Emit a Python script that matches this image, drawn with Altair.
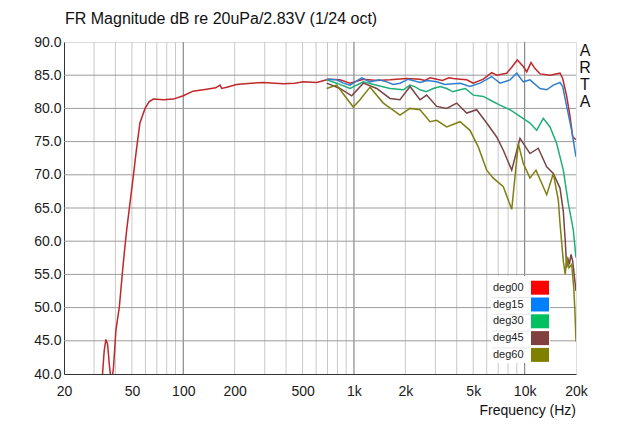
import altair as alt
import pandas as pd

# ---------------- data ----------------
series_names = ["deg00", "deg15", "deg30", "deg45", "deg60"]
legend_colors = ["#ff0000", "#0080ff", "#00c060", "#804040", "#808000"]
line_colors = ["#c0282a", "#2f7fd0", "#1faf78", "#7a4444", "#7f7f12"]

deg00_f = [33.0, 34.4, 35.2, 36.0, 37.0, 38.0, 39.0, 40.3, 42.2, 44.5, 46.6, 48.7, 50.9, 52.8,
           55.7, 59.7, 63.0, 66.7, 76.4, 87.4, 100, 114, 137, 155, 164, 168, 180, 205, 250,
           294, 385, 450, 505, 605, 692, 707, 828, 948, 1135, 1359, 1626, 2037, 2438, 2600,
           2800, 3054, 3300, 3600, 3820, 4200, 4576, 5002, 5726, 6412, 6860, 7852, 8402, 9058,
           9822, 10284, 10900, 11502, 12304, 14084, 16116, 16716, 17644, 18446, 19126, 20000]
deg00_db = [37.0, 43.5, 45.2, 44.5, 41.0, 38.5, 41.0, 46.6, 50.1, 56.7, 61.7, 65.7, 69.7, 73.2,
            77.8, 80.0, 81.0, 81.4, 81.3, 81.4, 81.9, 82.6, 82.9, 83.1, 83.5, 83.0, 83.2, 83.6, 83.8,
            83.9, 83.7, 83.8, 84.0, 83.9, 84.3, 84.4, 84.3, 83.8, 84.4, 84.2, 84.3, 84.5, 84.4, 84.2,
            84.6, 84.4, 84.2, 84.6, 84.5, 84.4, 84.3, 83.8, 84.4, 85.4, 85.0, 85.3, 86.2, 87.3,
            86.3, 85.5, 86.9, 86.0, 85.2, 85.0, 85.3, 84.5, 81.8, 78.8, 75.7, 75.3]

deg15_f = [692, 792, 866, 948, 1110, 1242, 1400, 1555, 1700, 1861, 2082, 2438, 2700, 3054, 3400,
           3820, 4200, 4784, 5476, 6412, 7174, 8210, 8988, 9822, 10752, 12304, 13470, 14726,
           16116, 16716, 17644, 18872, 20000]
deg15_db = [84.4, 84.3, 83.8, 83.5, 84.6, 84.0, 84.3, 84.0, 83.6, 83.8, 84.4, 83.9, 84.2, 84.0, 83.6,
            83.7, 83.8, 83.3, 83.8, 84.8, 83.8, 84.3, 85.3, 84.0, 84.3, 83.0, 82.8, 83.5,
            83.9, 83.3, 80.3, 76.7, 72.7]

deg30_f = [692, 792, 948, 1135, 1359, 1626, 1946, 2130, 2300, 2438, 2650, 2916, 3200, 3496, 3800,
           4182, 4500, 5002, 5726, 6552, 7174, 8210, 9394, 10752, 11768, 12866, 14084, 15416,
           16852, 18030, 19284, 20000]
deg30_db = [84.3, 83.8, 83.0, 84.0, 83.5, 83.0, 82.8, 83.5, 83.2, 82.8, 82.5, 83.0, 83.3, 83.0, 82.5,
            82.8, 83.0, 82.0, 81.8, 81.0, 80.5, 79.8, 78.8, 77.8, 76.7, 78.5, 77.2, 74.7,
            70.7, 65.7, 61.7, 57.5]

deg45_f = [692, 828, 970, 1135, 1359, 1626, 1861, 2130, 2438, 2668, 3054, 3496, 3998, 4576, 5238,
           5994, 6860, 7500, 8402, 9394, 10752, 12026, 13470, 14726, 16116, 16852, 17300, 17644,
           17900, 18300, 18700, 19126, 19500, 20000]
deg45_db = [83.8, 83.0, 81.9, 83.8, 83.0, 81.5, 81.3, 83.3, 81.3, 82.0, 80.3, 80.0, 80.8, 79.3, 79.8,
            77.8, 75.7, 73.7, 70.7, 75.5, 73.2, 74.0, 71.2, 70.2, 68.0, 64.5, 60.0, 56.0,
            57.5, 56.5, 58.0, 57.0, 55.0, 52.5]

deg60_f = [692, 792, 907, 991, 1085, 1242, 1486, 1861, 2130, 2438, 2790, 3054, 3496, 4182, 4784,
           5352, 5994, 6552, 7500, 8402, 9184, 9822, 10752, 11658, 13470, 14726, 15752, 16116,
           16852, 17300, 17644, 18200, 18872, 19400, 19730, 20000]
deg60_db = [83.0, 83.5, 81.5, 80.2, 81.3, 83.2, 80.8, 79.0, 80.0, 79.8, 78.0, 78.2, 77.2, 78.0, 76.7,
            74.2, 70.7, 69.5, 68.2, 64.8, 74.7, 71.7, 69.5, 70.7, 67.0, 70.2, 66.2, 62.7,
            57.0, 55.0, 57.7, 56.0, 56.5, 53.0, 49.2, 44.9]

x_tick_values = [20, 50, 100, 200, 500, 1000, 2000, 5000, 10000, 20000]
y_tick_values = [40, 45, 50, 55, 60, 65, 70, 75, 80, 85, 90]
minor_grid_f = [30, 40, 50, 60, 70, 80, 90, 200, 300, 400, 500, 600, 700, 800, 900,
                2000, 3000, 4000, 5000, 6000, 7000, 8000, 9000]
major_grid_f = [100, 1000, 10000]
h_grid_db = [45, 50, 55, 60, 65, 70, 75, 80, 85]

title_text = "FR Magnitude dB re 20uPa/2.83V (1/24 oct)"
xlabel_text = "Frequency (Hz)"
brand_letters = ["A", "R", "T", "A"]

# ---------------- tables ----------------
all_f = [deg00_f, deg15_f, deg30_f, deg45_f, deg60_f]
all_db = [deg00_db, deg15_db, deg30_db, deg45_db, deg60_db]
rows = []
for name, fs, dbs in zip(series_names, all_f, all_db):
    for i, (f, d) in enumerate(zip(fs, dbs)):
        rows.append({"series": name, "f": f, "db": d, "i": i})
df = pd.DataFrame(rows)

W, H = 512, 332
FONT = "Liberation Sans"

xscale = alt.Scale(type="log", domain=[20, 20000], nice=False)
yscale = alt.Scale(domain=[40, 90], nice=False, zero=False)

x_axis = alt.Axis(values=x_tick_values, grid=False, ticks=False, labelFlush=False,
                  labelOverlap=False, labelFontSize=14, labelFont=FONT, labelColor="#1a1a1a",
                  labelPadding=10, domainColor="#333333", title=None,
                  labelExpr="datum.value >= 1000 ? (datum.value / 1000) + 'k' : datum.value")
y_axis = alt.Axis(values=y_tick_values, grid=False, ticks=False, labelFlush=False,
                  labelOverlap=False, labelFontSize=14, labelFont=FONT, labelColor="#1a1a1a",
                  labelPadding=3, domainColor="#333333", title=None, format=".1f")

minor = alt.Chart(pd.DataFrame({"f": minor_grid_f})).mark_rule(
    color="#c9c9c9", strokeWidth=1).encode(x=alt.X("f:Q", scale=xscale, axis=x_axis))
major = alt.Chart(pd.DataFrame({"f": major_grid_f})).mark_rule(
    color="#8a8a8a", strokeWidth=1.2).encode(x=alt.X("f:Q", scale=xscale, axis=x_axis))
hgrid = alt.Chart(pd.DataFrame({"db": h_grid_db})).mark_rule(
    color="#9c9c9c", strokeWidth=1).encode(y=alt.Y("db:Q", scale=yscale, axis=y_axis))

lines = alt.Chart(df).mark_line(clip=True, strokeWidth=1.5).encode(
    x=alt.X("f:Q", scale=xscale, axis=x_axis),
    y=alt.Y("db:Q", scale=yscale, axis=y_axis),
    color=alt.Color("series:N", scale=alt.Scale(domain=series_names, range=line_colors), legend=None),
    order=alt.Order("i:Q"),
)

# legend (manual, label left of swatch)
leg_top, leg_step = 238.7, 16.8
leg_df = pd.DataFrame({
    "series": series_names,
    "y0": [leg_top + k * leg_step for k in range(len(series_names))],
})
leg_df["y1"] = leg_df["y0"] + 14
leg_df["yc"] = leg_df["y0"] + 7

leg_box = alt.Chart(pd.DataFrame({"a": [0]})).mark_rect(color="white").encode(
    x=alt.value(427), x2=alt.value(486), y=alt.value(234), y2=alt.value(321))
leg_sep = alt.Chart(leg_df.iloc[1:]).mark_rule(color="#e6e6e6", strokeWidth=1).encode(
    x=alt.value(428), x2=alt.value(466), y=alt.Y("y0:Q", scale=None))
leg_sw = alt.Chart(leg_df).mark_rect().encode(
    x=alt.value(467), x2=alt.value(485),
    y=alt.Y("y0:Q", scale=None), y2="y1:Q",
    color=alt.Color("series:N", scale=alt.Scale(domain=series_names, range=legend_colors), legend=None))
leg_txt = alt.Chart(leg_df).mark_text(align="left", baseline="middle", font=FONT,
                                       fontSize=11, color="#222222").encode(
    x=alt.value(429), y=alt.Y("yc:Q", scale=None), text="series:N")

brand_df = pd.DataFrame({"t": brand_letters, "y": [9 + 17 * k for k in range(len(brand_letters))]})
brand = alt.Chart(brand_df).mark_text(align="center", baseline="middle", font=FONT,
                                      fontSize=16, color="#111111").encode(
    x=alt.value(521), y=alt.Y("y:Q", scale=None), text="t:N")

title = alt.Chart(pd.DataFrame({"t": [title_text]})).mark_text(
    align="left", baseline="middle", font=FONT, fontSize=16, color="#111111").encode(
    x=alt.value(1), y=alt.value(-23), text="t:N")
xlabel = alt.Chart(pd.DataFrame({"t": [xlabel_text]})).mark_text(
    align="right", baseline="middle", font=FONT, fontSize=14, color="#111111").encode(
    x=alt.value(512), y=alt.value(369), text="t:N")

chart = alt.layer(minor, major, hgrid, lines, leg_box, leg_sep, leg_sw, leg_txt, brand, title, xlabel).properties(
    width=W, height=H,
    autosize=alt.AutoSizeParams(type="none"),
    padding={"left": 64, "top": 42, "right": 64, "bottom": 50},
).resolve_scale(color="independent").configure_view(stroke="#555555", strokeWidth=1).configure(
    background="white")

chart.save("out.html", embed_options={"renderer": "svg", "actions": False})
